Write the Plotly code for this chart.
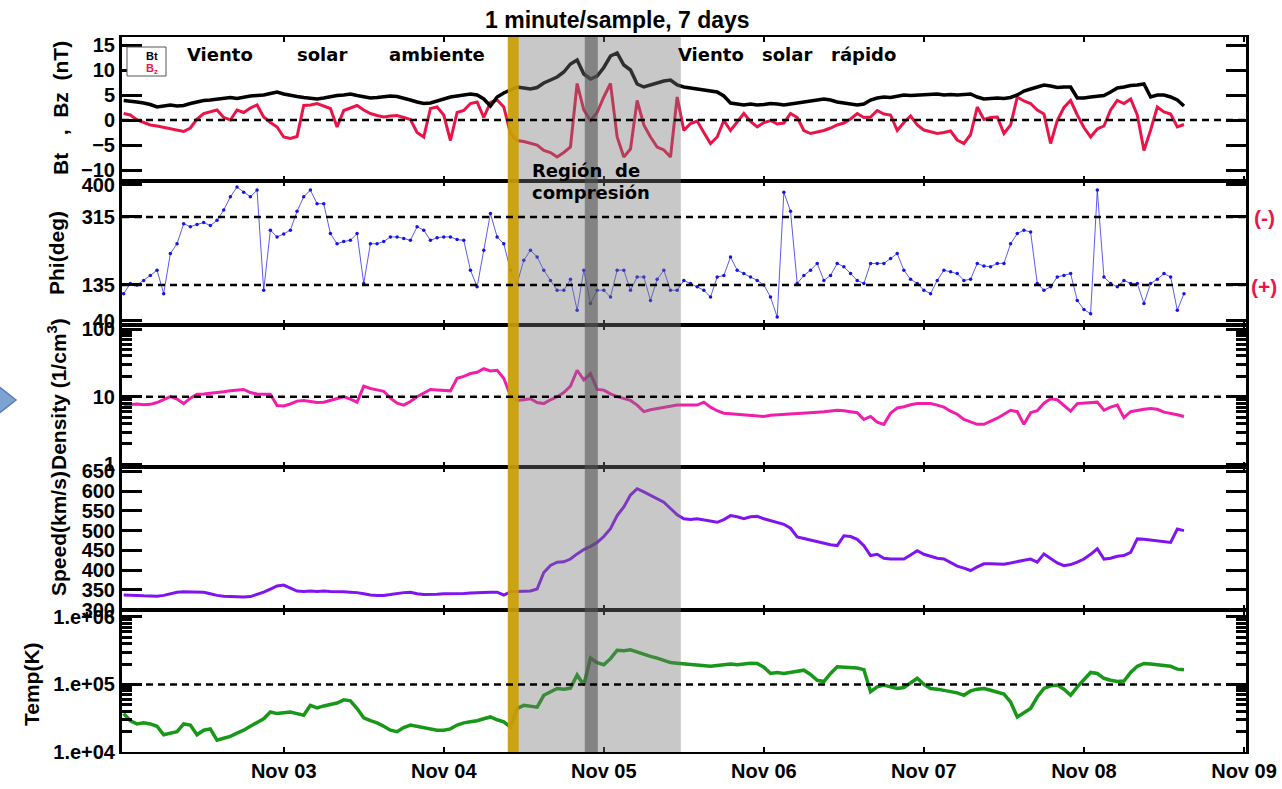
import plotly.graph_objects as go
from plotly.subplots import make_subplots
import pandas as pd

# ---------------- data (hourly samples) ----------------
start_time = "2015-11-02 00:00"
n_hours = 160
times = pd.date_range(start_time, periods=n_hours, freq="h")

bt = [3.9, 3.8, 3.6, 3.4, 3.1, 2.6, 2.8, 3.0, 2.8, 2.9,
      3.3, 3.6, 3.9, 4.0, 4.2, 4.3, 4.5, 4.3, 4.6, 4.8,
      4.9, 5.0, 5.3, 5.6, 5.2, 4.9, 4.7, 4.5, 4.3, 4.2,
      4.4, 4.7, 4.9, 5.0, 5.2, 4.9, 4.6, 4.4, 4.5, 4.6,
      4.8, 4.7, 4.4, 4.0, 3.6, 3.3, 3.4, 3.8, 4.2, 4.6,
      4.8, 5.0, 5.2, 5.0, 4.2, 2.8, 4.6, 5.4, 6.0, 6.6,
      6.4, 6.2, 6.5, 7.4, 8.0, 8.6, 9.6, 11.2, 12.0, 9.2,
      8.2, 8.8, 10.5, 12.8, 13.4, 11.0, 10.0, 7.2, 6.6, 7.0,
      7.5, 7.8, 8.0, 7.0, 6.6, 6.4, 6.2, 6.0, 5.8, 5.6,
      4.8, 3.4, 3.2, 3.0, 3.2, 3.0, 3.1, 3.3, 3.2, 3.0,
      3.2, 3.4, 3.6, 3.9, 4.1, 4.2, 4.0, 3.6, 3.4, 3.2,
      3.0, 3.2, 4.0, 4.4, 4.6, 4.5, 4.8, 5.0, 4.9, 5.0,
      5.1, 5.2, 5.2, 5.0, 5.1, 5.0, 5.1, 5.2, 4.6, 4.2,
      4.3, 4.4, 4.3, 4.5, 5.0, 5.8, 6.2, 6.6, 7.0, 6.8,
      6.5, 6.6, 6.6, 4.4, 4.4, 4.6, 4.8, 4.9, 5.6, 6.4,
      6.6, 6.9, 7.0, 7.2, 4.6, 5.0, 5.0, 4.6, 4.0, 2.8]

bz = [1.3, 1.0, 0.0, -0.5, -1.0, -1.2, -1.5, -1.8, -2.0, -2.3,
      -1.6, 0.2, 1.3, 1.6, 2.0, 0.5, 0.0, 2.0, 1.5, 2.4,
      3.0, 0.6, -0.5, -1.4, -3.4, -3.7, -3.3, 2.9, 3.0, 3.3,
      2.8, 2.3, -1.4, 1.9, 2.4, 2.9, 2.0, 1.3, 0.9, 0.6,
      0.8, 0.9, 0.5, 0.1, -2.5, -3.4, 2.3, 2.6, 1.0, -4.1,
      1.5, 1.9, 3.3, 3.6, 0.5, 3.5, 4.0, 2.6, -2.7, -4.1,
      -4.3, -4.7, -5.0, -6.1, -6.5, -7.4, -6.5, -5.4, 7.3, 2.0,
      -0.1, 1.5, 4.6, 7.3, -3.4, -7.4, -5.8, 3.9, -1.0, -3.4,
      -5.4, -6.0, -7.4, 4.6, -2.1, -0.7, -0.2, -2.5, -4.7, -3.4,
      -0.1, -2.1, -0.5, 1.3, -0.3, -1.4, -0.5, -0.1, -0.8, -0.6,
      1.3, 0.5, -2.1, -2.7, -2.4, -2.1, -1.6, -1.0, -0.6, 0.2,
      1.3, 0.5, 0.6, 1.9, 1.2, 1.0, -2.1, -0.5, 0.8, -1.0,
      -2.0, -2.3, -2.7, -2.5, -2.2, -4.0, -4.7, -2.9, 2.6, 0.1,
      0.5, 0.6, -2.7, -1.0, 4.6, 3.8, 3.3, 2.0, 1.2, -4.7,
      -0.1, 2.5, 3.9, 1.0, -1.5, -3.4, -1.8, -1.2, 2.0, 3.9,
      3.3, 4.2, 1.0, -6.1, -2.0, 2.6, 1.6, 1.2, -1.4, -0.9]

phi = [112, 139, 135, 147, 160, 174, 112, 218, 244, 297,
       289, 295, 300, 292, 306, 333, 368, 394, 380, 368,
       386, 121, 280, 262, 270, 280, 330, 368, 386, 350,
       350, 271, 244, 250, 253, 271, 139, 244, 244, 250,
       262, 262, 258, 253, 289, 280, 253, 260, 262, 262,
       255, 253, 174, 130, 227, 324, 262, 244, 174, 139,
       200, 227, 209, 174, 147, 121, 121, 150, 68, 174,
       86, 121, 121, 103, 174, 174, 121, 156, 156, 94,
       150, 174, 121, 121, 147, 139, 130, 121, 103, 156,
       160, 209, 174, 165, 156, 147, 135, 103, 50, 380,
       330, 139, 160, 174, 192, 147, 160, 192, 183, 165,
       147, 139, 192, 192, 192, 205, 218, 174, 150, 139,
       121, 112, 147, 174, 170, 165, 147, 150, 192, 185,
       183, 192, 192, 244, 271, 280, 275, 139, 121, 130,
       156, 160, 165, 94, 70, 59, 386, 156, 139, 130,
       147, 139, 139, 86, 139, 150, 165, 156, 68, 112]

density = [7.5, 7.6, 7.8, 7.6, 7.7, 8.2, 9.0, 10.0, 9.2, 7.9,
           9.5, 10.9, 11.0, 11.2, 11.5, 11.8, 12.2, 12.6, 12.8, 11.5,
           11.0, 10.9, 10.9, 7.4, 7.3, 7.8, 8.6, 8.8, 8.5, 8.2,
           8.3, 8.8, 9.5, 10.0, 9.2, 8.3, 14.3, 13.2, 12.6, 12.0,
           9.5, 8.0, 7.5, 8.5, 10.0, 11.2, 12.8, 12.6, 12.4, 12.2,
           18.7, 20.0, 22.0, 23.0, 25.9, 24.0, 24.6, 18.7, 10.3, 8.8,
           9.0, 9.3, 8.2, 7.9, 9.0, 10.0, 11.5, 14.3, 24.6, 17.7,
           22.0, 12.8, 12.5, 11.0, 10.0, 9.5, 8.8, 7.5, 6.0, 6.4,
           6.7, 7.0, 7.2, 7.5, 7.5, 7.5, 7.5, 8.3, 7.0, 6.2,
           5.7, 5.6, 5.5, 5.3, 5.2, 5.1, 5.1, 5.3, 5.4, 5.4,
           5.5, 5.6, 5.7, 5.9, 5.9, 6.0, 6.1, 6.3, 6.2, 6.0,
           5.8, 4.6, 5.1, 4.2, 3.9, 5.7, 6.8, 7.1, 7.6, 7.9,
           8.0, 7.9, 7.5, 7.0, 6.1, 5.5, 4.6, 4.2, 3.9, 3.9,
           4.3, 4.8, 5.5, 6.3, 6.0, 3.9, 5.8, 6.2, 8.0, 9.3,
           9.0, 7.5, 6.1, 7.9, 8.0, 8.3, 8.3, 6.3, 7.0, 7.5,
           4.9, 6.0, 6.3, 6.5, 6.7, 6.5, 5.9, 5.7, 5.4, 5.1]

speed = [337, 337, 336, 335, 334, 334, 336, 341, 344, 345,
         345, 345, 344, 340, 336, 334, 333, 332, 332, 333,
         338, 344, 352, 360, 362, 354, 347, 346, 347, 346,
         347, 346, 346, 345, 344, 343, 340, 337, 336, 336,
         338, 341, 343, 344, 340, 338, 338, 339, 340, 340,
         341, 341, 342, 343, 344, 344, 344, 337, 345, 346,
         347, 347, 352, 394, 412, 420, 421, 428, 441, 452,
         460, 470, 485, 505, 538, 560, 590, 606, 598, 590,
         582, 572, 556, 540, 530, 528, 530, 527, 524, 521,
         528, 538, 535, 530, 535, 536, 530, 525, 520, 516,
         506, 484, 480, 476, 473, 468, 464, 462, 487, 485,
         478, 462, 437, 440, 430, 428, 428, 428, 438, 449,
         440, 434, 430, 428, 420, 410, 405, 399, 408, 416,
         416, 415, 415, 418, 422, 425, 428, 420, 441, 430,
         418, 411, 414, 420, 428, 440, 454, 428, 430, 435,
         437, 445, 479, 478, 476, 474, 471, 470, 504, 500]

temp = [37000, 29000, 26000, 27000, 26000, 24000, 18000, 19000, 20000, 26000,
        25000, 18000, 21000, 22000, 15000, 16000, 17000, 19000, 21000, 24000,
        27000, 31000, 39000, 37000, 38000, 39000, 37000, 35000, 49000, 45000,
        48000, 50000, 53000, 59000, 57000, 44000, 32000, 29000, 27000, 24000,
        21000, 20000, 23000, 25000, 24000, 23000, 22000, 21000, 21000, 22000,
        25000, 27000, 28000, 29000, 31000, 33000, 30000, 28000, 23400, 44000,
        49000, 47000, 46000, 69000, 78000, 87000, 85000, 88000, 138000, 98000,
        245000, 210000, 195000, 240000, 320000, 315000, 324000, 300000, 275000, 260000,
        245000, 230000, 210000, 205000, 200000, 195000, 195000, 190000, 185000, 190000,
        195000, 200000, 195000, 200000, 205000, 204000, 180000, 145000, 150000, 145000,
        150000, 155000, 162000, 140000, 115000, 110000, 145000, 182000, 180000, 180000,
        175000, 165000, 78000, 92000, 98000, 92000, 87000, 90000, 105000, 123000,
        100000, 87000, 85000, 82000, 78000, 75000, 69000, 80000, 85000, 87000,
        82000, 78000, 72000, 55000, 33000, 38000, 44000, 65000, 87000, 95000,
        98000, 85000, 69000, 92000, 120000, 150000, 145000, 123000, 115000, 110000,
        112000, 150000, 185000, 204000, 200000, 195000, 192000, 185000, 168000, 165000]

day_ticks = ["2015-11-03", "2015-11-04", "2015-11-05",
             "2015-11-06", "2015-11-07", "2015-11-08", "2015-11-09"]
day_labels = ["Nov 03", "Nov 04", "Nov 05", "Nov 06", "Nov 07", "Nov 08", "Nov 09"]

b_ticks = [-10, -5, 0, 5, 10, 15]
phi_ticks = [40, 135, 315, 400]
dens_ticks = [1, 10, 100]
dens_labels = ["1", "10", "100"]
speed_ticks = [300, 350, 400, 450, 500, 550, 600, 650]
temp_ticks = [1e4, 1e5, 1e6]
temp_labels = ["1.e+04", "1.e+05", "1.e+06"]

# event intervals
gold_span = ("2015-11-04 09:36", "2015-11-04 11:15")
compression_span = ("2015-11-04 09:40", "2015-11-05 11:33")
dark_span = ("2015-11-04 21:09", "2015-11-04 23:06")

# ---------------- figure ----------------
W, H = 1282, 789
L, R, T, B = 122, 36, 37, 37
PW, PH = W - L - R, H - T - B


def px(x):
    return (x - L) / PW


def py(y):
    return (H - B - y) / PH


fig = make_subplots(rows=5, cols=1, shared_xaxes=True, vertical_spacing=0)

fig.add_trace(go.Scatter(x=times, y=bz, mode="lines", line=dict(color="#EB1448", width=3),
                         name="Bz"), row=1, col=1)
fig.add_trace(go.Scatter(x=times, y=bt, mode="lines", line=dict(color="black", width=3.5),
                         name="Bt"), row=1, col=1)
fig.add_trace(go.Scatter(x=times, y=phi, mode="lines+markers", line=dict(color="#1414E6", width=0.7),
                         marker=dict(color="#1414E6", size=3.5), name="Phi"), row=2, col=1)
fig.add_trace(go.Scatter(x=times, y=density, mode="lines", line=dict(color="#F01EAA", width=3),
                         name="Density"), row=3, col=1)
fig.add_trace(go.Scatter(x=times, y=speed, mode="lines", line=dict(color="#8014F0", width=3),
                         name="Speed"), row=4, col=1)
fig.add_trace(go.Scatter(x=times, y=temp, mode="lines", line=dict(color="#189818", width=3.5),
                         name="Temp"), row=5, col=1)

bounds = [37, 181, 325, 467, 610, 752]
tickfont = dict(family="Liberation Sans", size=20, color="black", weight="bold")

for i in range(5):
    top, bot = bounds[i], bounds[i + 1]
    fig.layout[f"yaxis{'' if i == 0 else i + 1}"].domain = [py(bot), py(top)]

xcommon = dict(range=["2015-11-01 23:45", "2015-11-09 00:18"], type="date", automargin=False,
               showline=True, linewidth=2, linecolor="black", mirror="allticks",
               ticks="inside", ticklen=5, tickwidth=2, tickcolor="black",
               tickmode="array", tickvals=day_ticks, ticktext=day_labels,
               showgrid=False, zeroline=False, tickfont=tickfont)
for i in range(1, 6):
    fig.update_xaxes(xcommon, row=i, col=1)
fig.update_xaxes(showticklabels=True, row=5, col=1)

ycommon = dict(showline=True, linewidth=3, linecolor="black", mirror="allticks", automargin=False,
               ticks="inside", ticklen=20, tickwidth=3, tickcolor="black",
               showgrid=False, zeroline=False, tickfont=tickfont, tickmode="array")
fig.update_yaxes(ycommon, row=1, col=1, range=[-12.2, 16.6], tickvals=b_ticks)
fig.update_yaxes(ycommon, row=2, col=1, range=[29, 410], tickvals=phi_ticks)
minor_d = [2, 3, 4, 5, 6, 7, 8, 9, 20, 30, 40, 50, 60, 70, 80, 90]
fig.update_yaxes(ycommon, row=3, col=1, type="log", range=[-0.04, 2.06],
                 tickvals=dens_ticks, ticktext=dens_labels,
                 minor=dict(tickmode="array", tickvals=minor_d, ticks="inside", ticklen=10,
                            tickwidth=2.5, tickcolor="black", showgrid=False))
fig.update_yaxes(ycommon, row=4, col=1, range=[299, 661], tickvals=speed_ticks)
minor_t = [v * 1e4 for v in [2, 3, 4, 5, 6, 7, 8, 9]] + [v * 1e5 for v in [2, 3, 4, 5, 6, 7, 8, 9]]
fig.update_yaxes(ycommon, row=5, col=1, type="log", range=[4.0, 6.1],
                 tickvals=temp_ticks, ticktext=temp_labels,
                 minor=dict(tickmode="array", tickvals=minor_t, ticks="inside", ticklen=10,
                            tickwidth=2.5, tickcolor="black", showgrid=False))

shapes = []
# shaded event intervals (drawn over the data, semi-transparent)
shapes.append(dict(type="rect", xref="x", yref="paper", x0=compression_span[0], x1=compression_span[1],
                   y0=0, y1=1, fillcolor="#757575", opacity=0.4, line=dict(width=0), layer="above"))
shapes.append(dict(type="rect", xref="x", yref="paper", x0=dark_span[0], x1=dark_span[1],
                   y0=0, y1=1, fillcolor="#555555", opacity=0.6, line=dict(width=0), layer="above"))
shapes.append(dict(type="rect", xref="x", yref="paper", x0=gold_span[0], x1=gold_span[1],
                   y0=0, y1=1, fillcolor="#CC9E00", opacity=0.9, line=dict(width=0), layer="above"))

# dashed reference lines
dash = dict(color="black", width=2.5, dash="7px,5px")
for yref, yv in [("y", 0), ("y2", 315), ("y2", 135), ("y3", 10), ("y5", 1e5)]:
    shapes.append(dict(type="line", xref="paper", yref=yref, x0=0, x1=1, y0=yv, y1=yv,
                       line=dash, layer="above"))

# legend box
shapes.append(dict(type="rect", xref="paper", yref="paper", x0=px(127), x1=px(166), y0=py(76), y1=py(47),
                   line=dict(color="#555555", width=1), fillcolor="white", layer="above"))
# left arrow decoration
shapes.append(dict(type="path", xref="paper", yref="paper",
                   path=f"M {px(-2)} {py(386)} L {px(16)} {py(400)} L {px(-2)} {py(414)} Z",
                   fillcolor="#7EA3D3", line=dict(color="#5B80B4", width=1.5), layer="above"))
fig.update_layout(shapes=shapes)

ann = []
bold18 = dict(family="DejaVu Sans", size=18, color="black", weight="bold")


def text(x, y, s, font, xanchor="left", yanchor="middle", angle=0):
    ann.append(dict(x=px(x), y=py(y), xref="paper", yref="paper", text=s, showarrow=False,
                    font=font, xanchor=xanchor, yanchor=yanchor, textangle=angle))


text(617, 20, "1 minute/sample, 7 days", dict(family="Liberation Sans", size=23, color="black", weight="bold"),
     xanchor="center")
for x, s in [(185, "Viento"), (295, "solar"), (387, "ambiente"),
             (676, "Viento"), (760, "solar"), (829, "rápido")]:
    text(x, 55, s, bold18)
text(530, 170, "Región", bold18)
text(613, 170, "de", bold18)
text(530, 193, "compresión", bold18)

# legend text
text(160, 56, "Bt", dict(family="Liberation Sans", size=11, color="black", weight="bold"), xanchor="right")
text(160, 69, "B<sub>z</sub>", dict(family="Liberation Sans", size=11, color="#EB1448", weight="bold"),
     xanchor="right")

# right side polarity marks
red20 = dict(family="Liberation Sans", size=21, color="#E8174A", weight="bold")
text(1264, 217, "(-)", red20, xanchor="center")
text(1264, 286, "(+)", red20, xanchor="center")

# axis titles
title_font = dict(family="Liberation Sans", size=21, color="black", weight="bold")
text(60, 108, "Bt   ,  Bz  (nT)", title_font, xanchor="center", angle=-90)
text(56, 253, "Phi(deg)", title_font, xanchor="center", angle=-90)
text(57, 394, "Density (1/cm<sup>3</sup>)", title_font, xanchor="center", angle=-90)
text(58, 534, "Speed(km/s)", title_font, xanchor="center", angle=-90)
text(31, 684, "Temp(K)", title_font, xanchor="center", angle=-90)

fig.update_layout(annotations=ann, width=W, height=H,
                  margin=dict(l=L, r=R, t=T, b=B, autoexpand=False),
                  plot_bgcolor="white", paper_bgcolor="white", showlegend=False)

fig.write_html("out.html", config={"displayModeBar": False},
               post_script="document.body.style.margin='0';")
